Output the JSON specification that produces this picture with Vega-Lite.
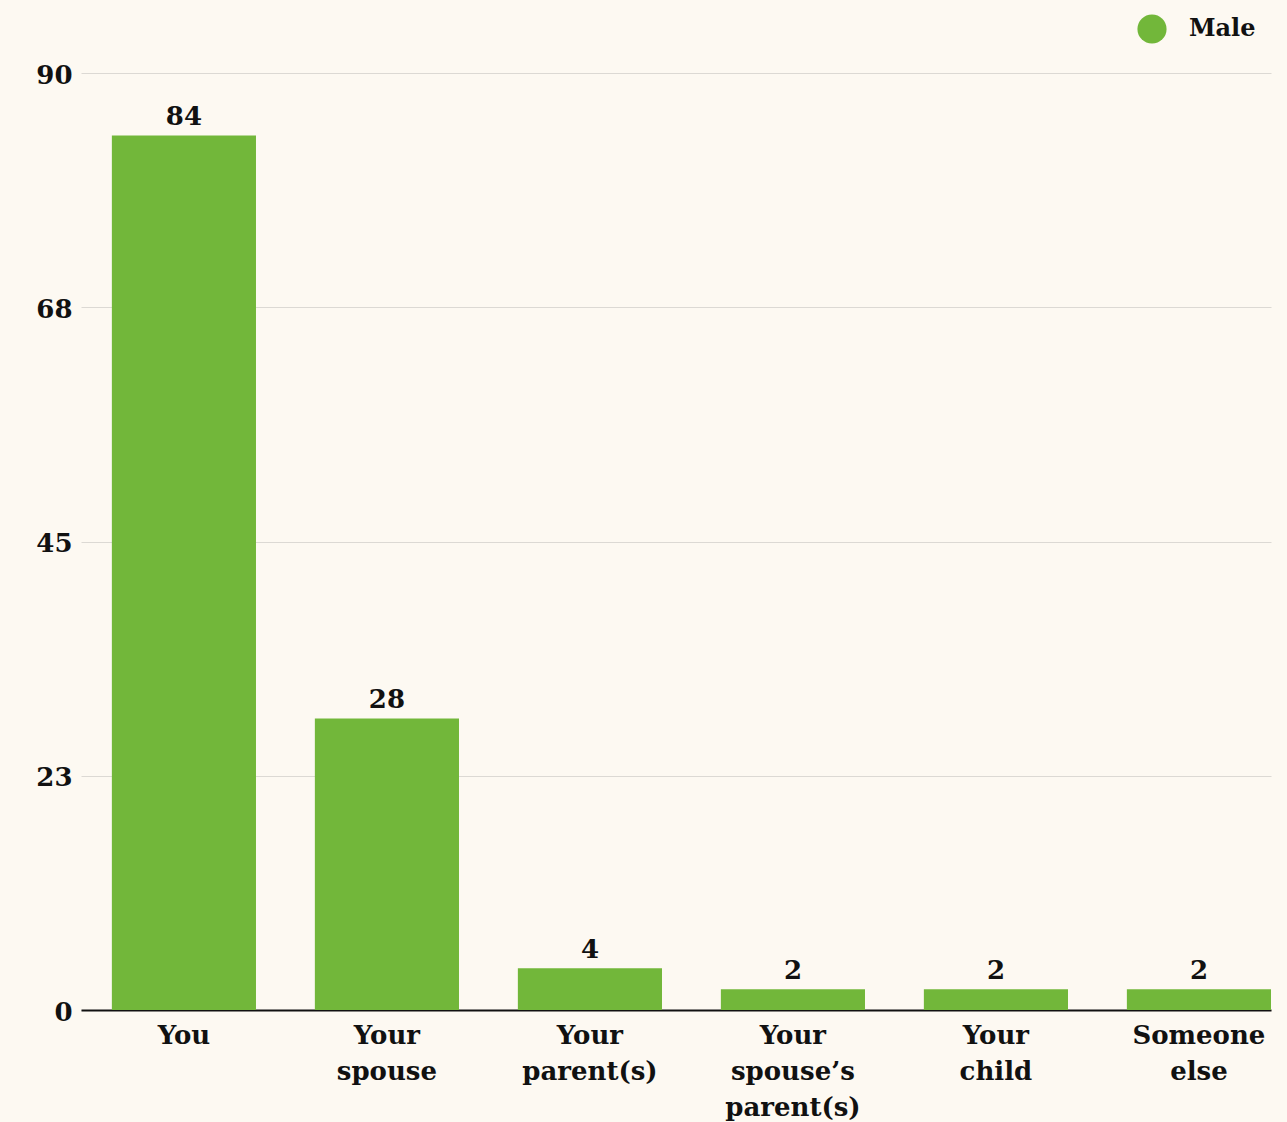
{
  "$schema": "https://vega.github.io/schema/vega-lite/v6.json",
  "autosize": {"type": "none"},
  "width": 1190,
  "height": 937,
  "padding": {"left": 81, "top": 73, "right": 16, "bottom": 112},
  "background": "#fdf9f2",
  "config": {
    "view": {"stroke": null},
    "font": "DejaVu Serif",
    "text": {"font": "DejaVu Serif"}
  },
  "data": {
    "values": [
      {"category": "You", "value": 84, "gender": "Male"},
      {"category": "Your spouse", "value": 28, "gender": "Male"},
      {"category": "Your parent(s)", "value": 4, "gender": "Male"},
      {"category": "Your spouse’s parent(s)", "value": 2, "gender": "Male"},
      {"category": "Your child", "value": 2, "gender": "Male"},
      {"category": "Someone else", "value": 2, "gender": "Male"}
    ]
  },
  "encoding": {
    "x": {
      "field": "category",
      "type": "nominal",
      "sort": null,
      "scale": {"paddingInner": 0.29, "paddingOuter": 0.076, "align": 1},
      "axis": {
        "title": null,
        "labelAngle": 0,
        "labelExpr": "split(datum.label, ' ')",
        "labelFont": "DejaVu Serif",
        "labelFontWeight": "bold",
        "labelFontSize": 26,
        "labelColor": "#111111",
        "labelLineHeight": 36,
        "labelPadding": 12,
        "ticks": false,
        "domainColor": "#111111",
        "domainWidth": 2,
        "grid": false
      }
    },
    "y": {
      "field": "value",
      "type": "quantitative",
      "scale": {"domain": [0, 90], "nice": false},
      "axis": {
        "title": null,
        "values": [0, 22.5, 45, 67.5, 90],
        "format": ".0f",
        "labelFont": "DejaVu Serif",
        "labelFontWeight": "bold",
        "labelFontSize": 26,
        "labelColor": "#111111",
        "labelPadding": 9,
        "labelBaseline": "middle",
        "labelOffset": 2,
        "ticks": false,
        "domain": false,
        "grid": true,
        "gridColor": "#dcd9d4",
        "gridWidth": 1
      }
    }
  },
  "layer": [
    {
      "mark": {"type": "bar", "color": "#72b73a"},
      "encoding": {
        "color": {
          "field": "gender",
          "type": "nominal",
          "scale": {"range": ["#72b73a"]},
          "legend": {
            "title": null,
            "orient": "none",
            "legendX": 1056,
            "legendY": -59,
            "symbolType": "circle",
            "symbolSize": 850,
            "symbolStrokeWidth": 0,
            "symbolOpacity": 1,
            "labelFont": "DejaVu Serif",
            "labelFontWeight": "bold",
            "labelFontSize": 24,
            "labelColor": "#111111",
            "labelOffset": 22
          }
        }
      }
    },
    {
      "mark": {"type": "text", "baseline": "bottom", "dy": -5, "fontSize": 26, "fontWeight": "bold", "color": "#111111", "font": "DejaVu Serif"},
      "encoding": {"text": {"field": "value", "type": "quantitative"}}
    }
  ]
}
